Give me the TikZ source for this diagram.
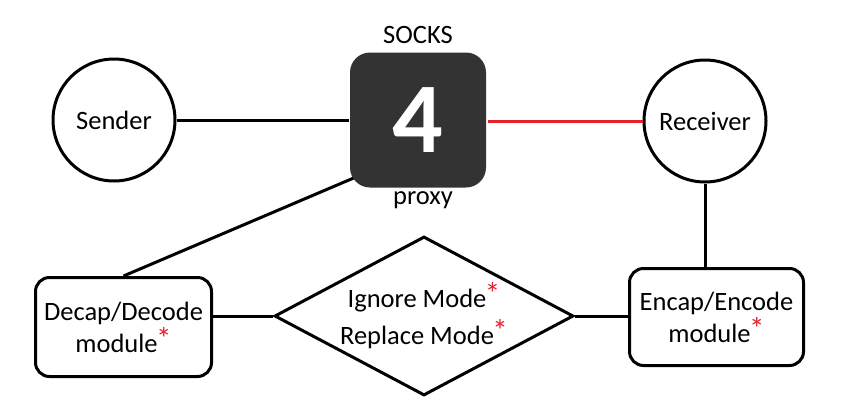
\documentclass[tikz,border=0pt]{standalone}
\usepackage{fontspec}
\setmainfont{Carlito}
\usetikzlibrary{shapes.geometric,calc}
\definecolor{proxyfill}{HTML}{333333}
\definecolor{redline}{HTML}{E8202A}
\newcommand{\rast}{\kern-1.5pt\textcolor{redline}{\raisebox{3pt}{\fontsize{31}{32}\selectfont *}}}
\begin{document}
\begin{tikzpicture}[x=1pt,y=-1pt,line width=3pt,
  every node/.style={font=\fontsize{26.5}{32}\selectfont},
  circ/.style={circle,draw,minimum size=122pt,inner sep=0pt},
  modbox/.style={draw,rounded corners=14pt,align=center,inner sep=0pt},
  decision/.style={diamond,draw,align=center,inner sep=0pt,aspect=1.88,minimum width=299pt,minimum height=159pt},
  proxybox/.style={fill=proxyfill,rounded corners=20pt,minimum width=136pt,minimum height=135pt,inner sep=0pt,text=white,font=\fontsize{100}{100}\bfseries\selectfont},
  link/.style={draw=black},
  redlink/.style={draw=redline}]
\useasboundingbox (0,0) rectangle (841,405);
\node[circ] (sender) at (114,120) {Sender};
\node[circ] (receiver) at (705,121) {Receiver};
\node[modbox,minimum width=176pt,minimum height=99pt] (decap) at (123.5,327) {Decap/Decode\\module\rast};
\node[modbox,minimum width=174pt,minimum height=97pt] (encap) at (716.5,317) {Encap/Encode\\module\rast};
\node[decision] (mode) at (424,316) {Ignore Mode\rast\\[5pt]Replace Mode\rast};
\coordinate (sqcorner) at (356,177);
\draw[link] (decap.north) -- (sqcorner);
\node[proxybox] (sq) at (418,120) {4};
\node (socks) at (418,35) {SOCKS};
\node (proxy) at (423,200) {proxy};
\draw[link] (sender.east) -- (sender.east -| sq.west);
\draw[redlink] (sq.east |- receiver.west) -- (receiver.west);
\draw[link] (receiver.south) -- (receiver.south |- encap.north);
\draw[link] (mode.west) -- (mode.west -| decap.east);
\draw[link] (mode.east) -- (mode.east -| encap.west);
\end{tikzpicture}
\end{document}
